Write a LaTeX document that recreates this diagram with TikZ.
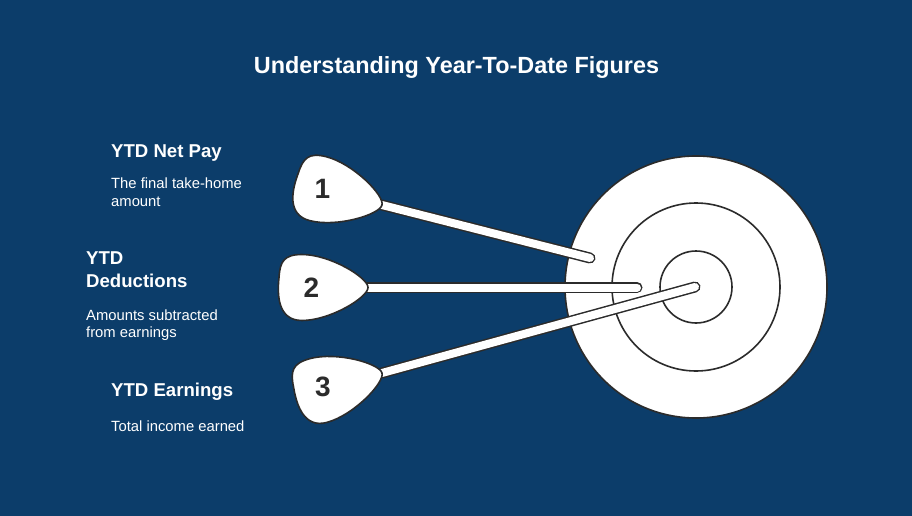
\documentclass[tikz,border=0pt]{standalone}
\usepackage{fontspec}
\setmainfont{Liberation Sans}
\definecolor{bg}{RGB}{12,61,106}
\definecolor{ink}{RGB}{43,43,43}
\tikzset{
  lbl/.style={anchor=base west, inner sep=0pt, text=white, font=\fontsize{18.6}{22}\selectfont\bfseries},
  desc/.style={anchor=base west, inner sep=0pt, text=white, font=\fontsize{14.8}{18}\selectfont},
  num/.style={text=ink, font=\fontsize{28}{32}\selectfont\bfseries},
  ring/.style={draw=ink, line width=1.6pt},
  shaftout/.style={draw=ink, line width=11pt, line cap=round},
  shaftin/.style={draw=white, line width=8pt, line cap=round},
  headst/.style={draw=ink, line width=1.6pt, fill=white, line join=round},
}
\newcommand{\headshape}{(0,0) .. controls (0,-10) and (-38,-33) .. (-66,-33)
  .. controls (-84,-33) and (-88,-26) .. (-89,-10)
  .. controls (-91,8) and (-90,33) .. (-66,33)
  .. controls (-38,33) and (0,10) .. (0,0) -- cycle}
\begin{document}
\begin{tikzpicture}[x=1pt,y=-1pt]
\fill[bg] (0,0) rectangle (912,516);
\useasboundingbox (0,0) rectangle (912,516);

% title
\node[anchor=base, inner sep=0pt, text=white, font=\fontsize{23.4}{28}\selectfont\bfseries] (title) at (456.5,73.3) {Understanding Year-To-Date Figures};

% labels
\node[lbl] (h1) at (111,157) {YTD Net Pay};
\node[desc] (d1a) at (111,188.3) {The final take-home};
\node[desc] (d1b) at (111,206) {amount};
\node[lbl] (h2a) at (86,264.3) {YTD};
\node[lbl] (h2b) at (86,287.7) {Deductions};
\node[desc] (d2a) at (86,320) {Amounts subtracted};
\node[desc] (d2b) at (86,337.3) {from earnings};
\node[lbl] (h3) at (111,396.7) {YTD Earnings};
\node[desc] (d3) at (111,431) {Total income earned};

% target
\coordinate (tc) at (696,287);
\draw[ring, fill=white] (tc) circle[radius=131];
\draw[ring] (tc) circle[radius=84];
\draw[ring] (tc) circle[radius=36];

% dart 1
\coordinate (t1) at (382,205);
\coordinate (e1) at (590,258);
\draw[shaftout] (t1) -- (e1);
\draw[shaftin] (t1) -- (e1);
\begin{scope}[shift={(t1)}, rotate=-14.3]
\draw[headst] \headshape;
\end{scope}
\node[num] (n1) at (322.5,188.5) {1};

% dart 2
\coordinate (t2) at (368,287.5);
\coordinate (e2) at (637,287.5);
\draw[shaftout] (t2) -- (e2);
\draw[shaftin] (t2) -- (e2);
\begin{scope}[shift={(t2)}]
\draw[headst] \headshape;
\end{scope}
\node[num] (n2) at (311.5,287.5) {2};

% dart 3
\coordinate (t3) at (382,373);
\coordinate (e3) at (695,287);
\draw[shaftout] (t3) -- (e3);
\draw[shaftin] (t3) -- (e3);
\begin{scope}[shift={(t3)}, rotate=15.4]
\draw[headst] \headshape;
\end{scope}
\node[num] (n3) at (323,386.5) {3};
\end{tikzpicture}
\end{document}
